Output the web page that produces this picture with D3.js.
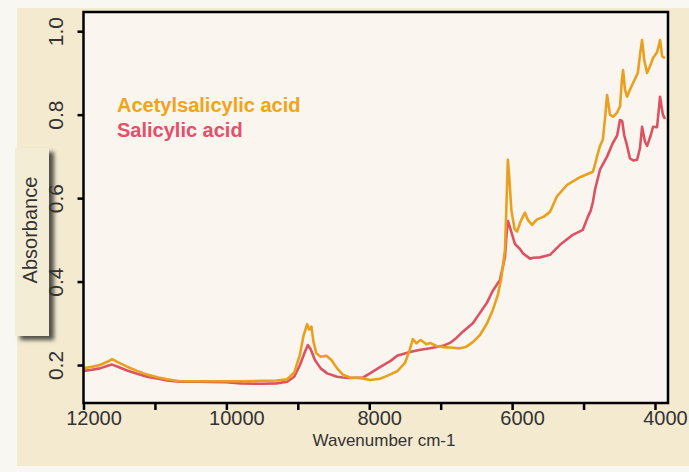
<!DOCTYPE html>
<html>
<head>
<meta charset="utf-8">
<script src="https://cdn.jsdelivr.net/npm/d3@7"></script>
<style>
  body { margin: 0; background: #f8f7f2; }
  svg { display: block; }
  .tick text { font-family: "Liberation Sans", Arial, sans-serif; fill: #333; }
</style>
</head>
<body>
<div id="vis"></div>
<script>
// spectra: wavenumber (cm-1) and absorbance
var acetylWave = [12000, 11900, 11770, 11650, 11600, 11520, 11390, 11250, 11110, 10950, 10830, 10650, 10400, 10000, 9800, 9500, 9300, 9150, 9050, 8970, 8920, 8870, 8840, 8810, 8780, 8740, 8680, 8600, 8530, 8450, 8370, 8270, 8090, 7990, 7850, 7750, 7610, 7500, 7430, 7390, 7340, 7280, 7200, 7150, 7050, 6970, 6870, 6730, 6650, 6550, 6450, 6350, 6270, 6200, 6150, 6100, 6080, 6060, 6040, 6010, 5965, 5930, 5880, 5820, 5780, 5720, 5660, 5610, 5560, 5470, 5370, 5230, 5050, 4870, 4840, 4811, 4770, 4730, 4700, 4671, 4630, 4587, 4530, 4489, 4465, 4447, 4420, 4391, 4350, 4307, 4240, 4205, 4181, 4150, 4111, 4060, 4027, 3970, 3929, 3900, 3860];
var acetylAbs = [0.193, 0.195, 0.200, 0.209, 0.214, 0.207, 0.196, 0.186, 0.177, 0.170, 0.166, 0.161, 0.161, 0.161, 0.161, 0.162, 0.163, 0.166, 0.182, 0.225, 0.270, 0.298, 0.285, 0.292, 0.255, 0.228, 0.220, 0.222, 0.212, 0.192, 0.177, 0.170, 0.168, 0.164, 0.167, 0.174, 0.185, 0.205, 0.238, 0.262, 0.252, 0.260, 0.250, 0.253, 0.245, 0.243, 0.242, 0.240, 0.243, 0.255, 0.272, 0.300, 0.332, 0.368, 0.410, 0.476, 0.580, 0.692, 0.650, 0.570, 0.526, 0.520, 0.545, 0.565, 0.548, 0.536, 0.548, 0.552, 0.555, 0.567, 0.605, 0.632, 0.650, 0.663, 0.680, 0.700, 0.725, 0.740, 0.790, 0.847, 0.800, 0.795, 0.805, 0.820, 0.880, 0.907, 0.860, 0.843, 0.860, 0.876, 0.900, 0.950, 0.979, 0.930, 0.900, 0.920, 0.936, 0.950, 0.979, 0.940, 0.935];

var salicylWave = [12000, 11900, 11770, 11650, 11600, 11520, 11390, 11250, 11110, 10950, 10830, 10650, 10400, 10000, 9800, 9500, 9300, 9150, 9050, 8970, 8900, 8860, 8820, 8760, 8680, 8590, 8450, 8370, 8270, 8090, 7990, 7850, 7700, 7610, 7430, 7300, 7150, 6970, 6870, 6780, 6690, 6550, 6450, 6350, 6270, 6170, 6100, 6075, 6057, 6030, 5990, 5960, 5890, 5850, 5750, 5700, 5610, 5470, 5330, 5150, 5010, 4940, 4900, 4870, 4840, 4770, 4670, 4590, 4530, 4490, 4460, 4430, 4400, 4350, 4300, 4250, 4210, 4181, 4140, 4110, 4060, 4027, 3971, 3929, 3890, 3860];
var salicylAbs = [0.186, 0.188, 0.192, 0.199, 0.201, 0.196, 0.187, 0.179, 0.172, 0.167, 0.163, 0.160, 0.160, 0.159, 0.156, 0.155, 0.156, 0.160, 0.172, 0.200, 0.232, 0.248, 0.238, 0.212, 0.192, 0.180, 0.172, 0.170, 0.169, 0.170, 0.180, 0.195, 0.210, 0.222, 0.231, 0.236, 0.240, 0.246, 0.253, 0.265, 0.280, 0.300, 0.325, 0.350, 0.378, 0.404, 0.459, 0.520, 0.545, 0.530, 0.507, 0.490, 0.478, 0.468, 0.455, 0.457, 0.458, 0.464, 0.488, 0.512, 0.524, 0.555, 0.570, 0.590, 0.620, 0.668, 0.700, 0.732, 0.750, 0.787, 0.785, 0.750, 0.732, 0.695, 0.690, 0.692, 0.720, 0.771, 0.735, 0.725, 0.750, 0.771, 0.770, 0.843, 0.800, 0.790];

var seriesNames = ['Acetylsalicylic acid', 'Salicylic acid'];
var seriesColors = ['#e9a01e', '#dc5262'];
var legendColors = ['#f2a31c', '#e2506a'];

var xTickValues = [12000, 11000, 10000, 9000, 8000, 7000, 6000, 5000, 4000];
var yTickValues = [0.2, 0.4, 0.6, 0.8, 1.0];

var width = 689;
var height = 472;

var frame = { left: 83.5, top: 12, right: 668, bottom: 403 };

var svg = d3.select('#vis')
    .append('svg')
    .attr('width', width)
    .attr('height', height);

var defs = svg.append('defs');

var shadow = defs.append('filter')
    .attr('id', 'shadow')
    .attr('x', '-30%').attr('y', '-10%')
    .attr('width', '170%').attr('height', '130%');
shadow.append('feDropShadow')
    .attr('dx', 5).attr('dy', 4)
    .attr('stdDeviation', 2)
    .attr('flood-color', '#4a4740')
    .attr('flood-opacity', 0.95);

defs.append('clipPath').attr('id', 'plotclip')
    .append('rect')
    .attr('x', frame.left)
    .attr('y', frame.top)
    .attr('width', frame.right - frame.left)
    .attr('height', frame.bottom - frame.top);

// beige panel behind the chart
svg.append('rect')
    .attr('x', 17).attr('y', 8)
    .attr('width', width - 17).attr('height', 458)
    .attr('fill', '#f3ead0');

// plot area
svg.append('rect')
    .attr('x', frame.left).attr('y', frame.top)
    .attr('width', frame.right - frame.left)
    .attr('height', frame.bottom - frame.top)
    .attr('fill', '#faf6ef');

var xScale = d3.scaleLinear()
    .domain([12000, 3818])
    .range([frame.left, frame.right]);

var yScale = d3.scaleLinear()
    .domain([0.109, 1.046])
    .range([frame.bottom, frame.top]);

// Absorbance tab
svg.append('rect')
    .attr('x', 15).attr('y', 148)
    .attr('width', 34).attr('height', 188)
    .attr('fill', '#f4edd6')
    .attr('filter', 'url(#shadow)');

svg.append('text')
    .attr('transform', 'translate(37,' + 230 + ') rotate(-90)')
    .attr('text-anchor', 'middle')
    .style('font-family', '"Liberation Sans", Arial, sans-serif')
    .style('font-size', '20px')
    .style('fill', '#333')
    .text('Absorbance');

// axes
var xAxis = d3.axisBottom(xScale)
    .tickValues(xTickValues)
    .tickSize(7)
    .tickFormat(function(d) { return d % 2000 === 0 ? d : ''; });

var yAxis = d3.axisLeft(yScale)
    .tickValues(yTickValues)
    .tickSize(6)
    .tickFormat(d3.format('.1f'));

var xAxisG = svg.append('g')
    .attr('transform', 'translate(0,' + frame.bottom + ')')
    .call(xAxis);
xAxisG.select('.domain').remove();
xAxisG.selectAll('line').attr('stroke', '#000').attr('stroke-width', 2.5);
xAxisG.selectAll('text')
    .attr('dx', 10)
    .attr('y', 8)
    .style('font-size', '20px');

var yAxisG = svg.append('g')
    .attr('transform', 'translate(' + frame.left + ',0)')
    .call(yAxis);
yAxisG.select('.domain').remove();
yAxisG.selectAll('line').attr('stroke', '#000').attr('stroke-width', 2.5);
yAxisG.selectAll('text')
    .attr('x', null).attr('dy', null)
    .attr('text-anchor', 'middle')
    .attr('transform', 'translate(-21,0) rotate(-90)')
    .style('font-size', '21px');

svg.append('text')
    .attr('x', 384).attr('y', 446)
    .attr('text-anchor', 'middle')
    .style('font-family', '"Liberation Sans", Arial, sans-serif')
    .style('font-size', '17px')
    .style('fill', '#333')
    .text('Wavenumber cm-1');

// spectra
var line = d3.line()
    .x(function(d) { return xScale(d[0]); })
    .y(function(d) { return yScale(d[1]); });

var series = [
    d3.zip(salicylWave, salicylAbs),
    d3.zip(acetylWave, acetylAbs)
];
var order = [1, 0];

svg.append('g')
    .attr('clip-path', 'url(#plotclip)')
    .selectAll('path')
    .data(series)
    .enter().append('path')
    .attr('d', line)
    .attr('fill', 'none')
    .attr('stroke', function(d, i) { return seriesColors[order[i]]; })
    .attr('stroke-width', 2.6)
    .attr('stroke-linejoin', 'round');

// frame
svg.append('rect')
    .attr('x', frame.left).attr('y', frame.top)
    .attr('width', frame.right - frame.left)
    .attr('height', frame.bottom - frame.top)
    .attr('fill', 'none')
    .attr('stroke', '#000')
    .attr('stroke-width', 2.5);

// legend
svg.selectAll('.legend')
    .data(seriesNames)
    .enter().append('text')
    .attr('class', 'legend')
    .attr('x', 117)
    .attr('y', function(d, i) { return 112 + i * 25; })
    .style('font-family', '"Liberation Sans", Arial, sans-serif')
    .style('font-weight', 'bold')
    .style('font-size', '20px')
    .style('fill', function(d, i) { return legendColors[i]; })
    .text(function(d) { return d; });
</script>
</body>
</html>
